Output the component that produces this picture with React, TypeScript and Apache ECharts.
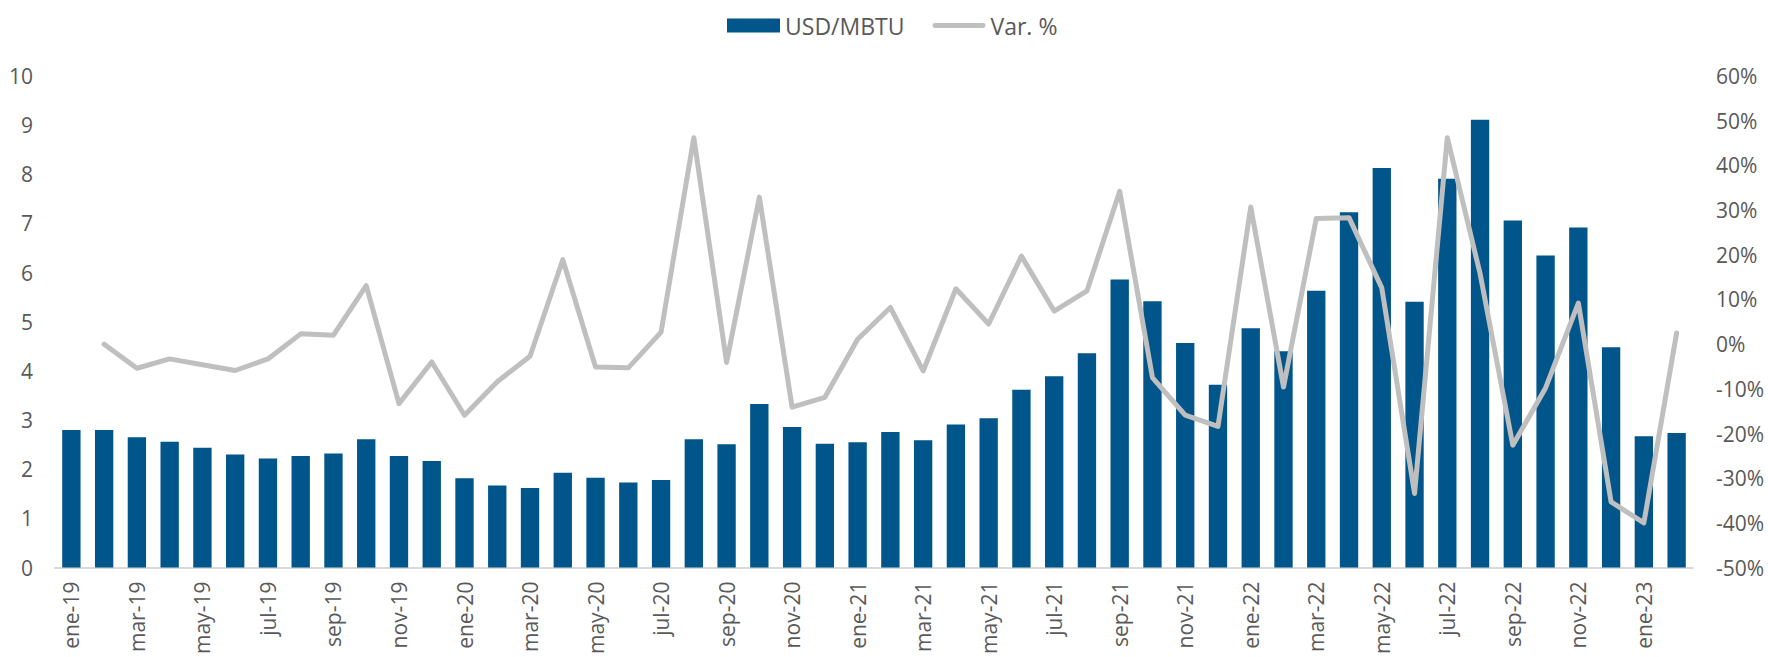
import React, { useEffect, useRef } from "react";
import * as echarts from "echarts";

const months = [
  "ene-19","feb-19","mar-19","abr-19","may-19","jun-19","jul-19","ago-19","sep-19","oct-19","nov-19","dic-19",
  "ene-20","feb-20","mar-20","abr-20","may-20","jun-20","jul-20","ago-20","sep-20","oct-20","nov-20","dic-20",
  "ene-21","feb-21","mar-21","abr-21","may-21","jun-21","jul-21","ago-21","sep-21","oct-21","nov-21","dic-21",
  "ene-22","feb-22","mar-22","abr-22","may-22","jun-22","jul-22","ago-22","sep-22","oct-22","nov-22","dic-22",
  "ene-23","feb-23",
];

const usdMbtu = [
  2.80, 2.80, 2.65, 2.56, 2.44, 2.30, 2.22, 2.27, 2.32, 2.61, 2.27, 2.17,
  1.82, 1.67, 1.62, 1.93, 1.83, 1.73, 1.78, 2.61, 2.51, 3.33, 2.86, 2.52,
  2.55, 2.76, 2.59, 2.91, 3.04, 3.62, 3.89, 4.36, 5.86, 5.42, 4.57, 3.72,
  4.87, 4.40, 5.63, 7.23, 8.13, 5.41, 7.91, 9.11, 7.06, 6.35, 6.92, 4.48,
  2.67, 2.74,
];

const varPct = [
  null, 0.0, -5.4, -3.3, -4.6, -5.9, -3.3, 2.3, 2.0, 13.1, -13.3, -4.0,
  -15.9, -8.4, -2.7, 18.9, -5.1, -5.3, 2.7, 46.2, -4.1, 32.9, -14.1, -11.9,
  1.1, 8.2, -6.0, 12.4, 4.5, 19.7, 7.4, 11.9, 34.2, -7.5, -15.9, -18.4,
  30.7, -9.6, 28.1, 28.3, 12.6, -33.4, 46.2, 15.8, -22.6, -9.8, 9.2, -35.3,
  -40.0, 2.5,
];

const seriesNames = ["USD/MBTU", "Var. %"];

export default function App() {
  const ref = useRef<HTMLDivElement>(null);

  useEffect(() => {
    document.body.style.margin = "0";
    if (!ref.current) return;
    const chart = echarts.init(ref.current, undefined, { renderer: "svg" });
    const font = "'Open Sans', 'Noto Sans', sans-serif";
    const textColor = "#595959";
    const lineIcon =
      "path://M2.5,0 L52.5,0 A2.5,2.5 0 0 1 52.5,5 L2.5,5 A2.5,2.5 0 0 1 2.5,0 Z";
    chart.setOption({
      animation: false,
      textStyle: { fontFamily: font },
      legend: {
        left: 722,
        top: 9,
        itemWidth: 53,
        itemHeight: 14,
        itemGap: 28,
        textStyle: { fontSize: 23, color: textColor, fontFamily: font },
        data: [
          { name: seriesNames[0], icon: "rect" },
          { name: seriesNames[1], icon: lineIcon },
        ],
      },
      grid: { left: 55, right: 75, top: 76, bottom: 86, containLabel: false },
      xAxis: {
        type: "category",
        data: months,
        boundaryGap: true,
        axisTick: { show: false },
        axisLine: { lineStyle: { color: "#D9D9D9", width: 2 } },
        axisLabel: {
          interval: 1,
          rotate: 90,
          margin: 14,
          fontSize: 21,
          color: textColor,
          fontFamily: font,
        },
      },
      yAxis: [
        {
          type: "value",
          min: 0,
          max: 10,
          interval: 1,
          splitLine: { show: false },
          axisLine: { show: false },
          axisTick: { show: false },
          axisLabel: { margin: 22, fontSize: 21, color: textColor, fontFamily: font },
        },
        {
          type: "value",
          position: "right",
          min: -50,
          max: 60,
          interval: 10,
          splitLine: { show: false },
          axisLine: { show: false },
          axisTick: { show: false },
          axisLabel: {
            margin: 23,
            fontSize: 21,
            color: textColor,
            fontFamily: font,
            formatter: "{value}%",
          },
        },
      ],
      series: [
        {
          name: seriesNames[0],
          type: "bar",
          data: usdMbtu,
          barCategoryGap: "44%",
          itemStyle: { color: "#00568A" },
        },
        {
          name: seriesNames[1],
          type: "line",
          yAxisIndex: 1,
          data: varPct,
          symbol: "none",
          connectNulls: false,
          lineStyle: { color: "#BFBFBF", width: 5, cap: "round", join: "round" },
          itemStyle: { color: "#BFBFBF" },
        },
      ],
    });
    return () => chart.dispose();
  }, []);

  return <div ref={ref} style={{ width: 1768, height: 657 }} />;
}
